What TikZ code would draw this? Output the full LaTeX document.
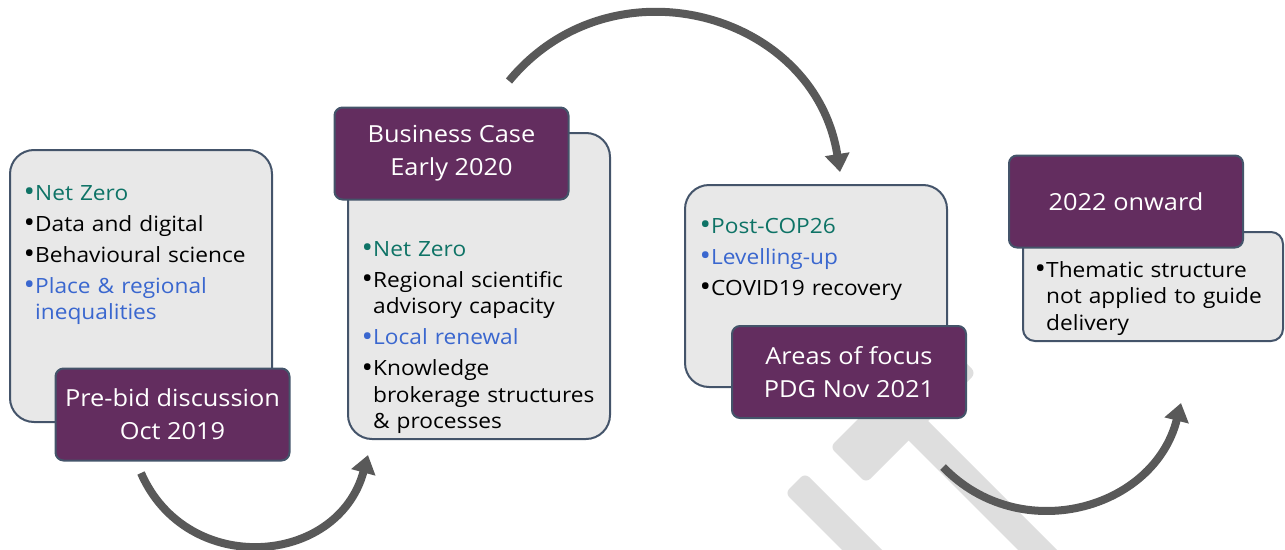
\documentclass[tikz,border=0pt]{standalone}
\usepackage{fontspec}
\setmainfont[FakeStretch=1.08]{Open Sans}
\usetikzlibrary{arrows.meta}

\definecolor{plum}{HTML}{632D5F}
\definecolor{panelfill}{HTML}{E8E8E8}
\definecolor{slate}{HTML}{44546A}
\definecolor{themegreen}{HTML}{0E7366}
\definecolor{themeblue}{HTML}{3A67CF}
\definecolor{flowgray}{HTML}{595959}
\definecolor{markgray}{HTML}{DEDEDE}

% one bullet line, wrapped lines hang under the text
\newcommand{\bitem}[2]{{\color{#1}\noindent\hangindent=12pt\hangafter=1%
  \makebox[12pt][r]{\raisebox{-1.5pt}{\scalebox{1.35}{\textbullet}}}#2\par}}
\newcommand{\nl}{\hfil\break}

\tikzset{
  panel/.style={draw=slate, line width=2pt, fill=panelfill, rounded corners=24pt, minimum width=262pt},
  stage/.style={draw=slate, line width=2pt, fill=plum, rounded corners=8pt, text=white, align=center,
    minimum width=234pt, minimum height=92pt, font=\fontsize{23.5}{33}\selectfont},
  items/.style={anchor=north west, inner sep=0pt, text width=260pt,
    font=\fontsize{21}{26.5}\selectfont, execute at begin node={\setlength{\parskip}{4.5pt}}},
  flow/.style={line width=8pt, draw=flowgray, -{Triangle[width=24pt,length=18pt]}}
}

\begin{document}
\begin{tikzpicture}[x=1pt, y=-1pt]
\useasboundingbox (0,0) rectangle (1285,549);

% gavel mark behind everything
\begin{scope}
  \clip (0,0) rectangle (1285,549);
  \fill[markgray, rounded corners=6pt] (830,447) -- (866,483) -- (976,373) -- (940,337) -- cycle;
  \fill[markgray] (905,398) -- (1100,593) -- (1100,632) -- (880,412) -- cycle;
  \fill[markgray, rounded corners=6pt] (785,493) -- (805,473) -- (960,628) -- (940,648) -- cycle;
\end{scope}

% panels
\node[panel, minimum height=272pt] (panel1) at (141,286) {};
\node[panel, minimum height=306pt] (panel2) at (479,286) {};
\node[panel, minimum height=202pt] (panel3) at (816,286) {};
\node[panel, minimum width=260pt, minimum height=109pt, rounded corners=12pt] (panel4) at (1153,286.5) {};

% stage labels
\node[stage] (stage1) at (172.5,414.5) {Pre-bid discussion\\Oct 2019};
\node[stage] (stage2) at (451.5,153.5) {Business Case\\Early 2020};
\node[stage] (stage3) at (849,372) {Areas of focus\\PDG Nov 2021};
\node[stage] (stage4) at (1126,201.5) {2022 onward};

% themes
\node[items] (list1) at (23,185) {%
  \bitem{themegreen}{Net Zero}
  \bitem{black}{Data and digital}
  \bitem{black}{Behavioural science}
  \bitem{themeblue}{Place \& regional\nl inequalities}};
\node[items] (list2) at (361,241) {%
  \bitem{themegreen}{Net Zero}
  \bitem{black}{Regional scientific\nl advisory capacity}
  \bitem{themeblue}{Local renewal}
  \bitem{black}{Knowledge\nl brokerage structures\nl \& processes}};
\node[items] (list3) at (699,218) {%
  \bitem{themegreen}{Post-COP26}
  \bitem{themeblue}{Levelling-up}
  \bitem{black}{COVID19 recovery}};
\node[items] (list4) at (1034,261) {%
  \bitem{black}{Thematic structure\nl not applied to guide\nl delivery}};

% curved arrows between stages
\coordinate (a1s) at (141,473);
\coordinate (a1e) at (368,455);
\coordinate (a2s) at (509,81);
\coordinate (a2e) at (840,172);
\coordinate (a3s) at (943,467);
\coordinate (a3e) at (1181,403);
\draw[flow] (a1s) .. controls (187,578) and (338,566) .. (a1e);
\draw[flow] (a2s) .. controls (612,-44) and (815,12) .. (a2e);
\draw[flow] (a3s) .. controls (1020,547) and (1154,510) .. (a3e);
\end{tikzpicture}
\end{document}
